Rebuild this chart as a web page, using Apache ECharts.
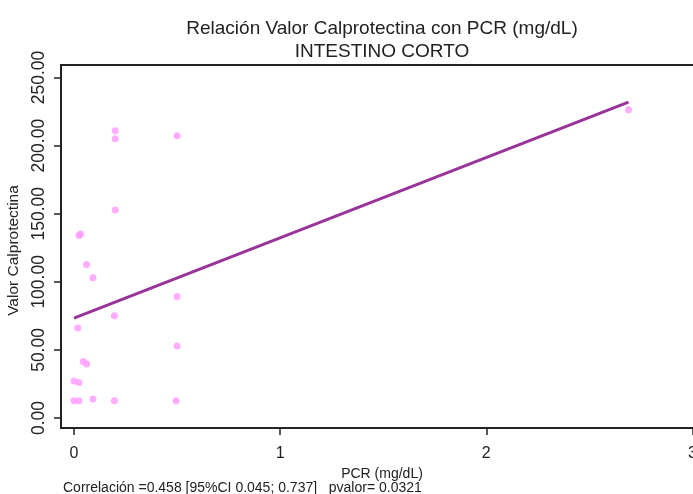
<!DOCTYPE html>
<html>
<head>
<meta charset="utf-8">
<script src="https://cdn.jsdelivr.net/npm/echarts@6/dist/echarts.min.js"></script>
<style>html,body{margin:0;padding:0;background:#fff}#c{width:693px;height:494px}</style>
</head>
<body>
<div id="c"></div>
<script>
// Data
const pcr = [0, 0.024, 0.092, 0.196, 0.495, 0, 0.024, 0.045, 0.061, 0.018, 0.196, 0.5, 0.5, 0.092, 0.061, 0.024, 0.032, 0.2, 0.2, 0.2, 0.5, 2.69];
const calpro = [12.7, 12.7, 14, 12.7, 12.7, 27.2, 26.1, 41.6, 39.6, 66.1, 75.1, 52.9, 89.3, 103, 112.8, 134.1, 135.1, 152.7, 210.9, 205.1, 207.3, 226.4];
const fitX = [0, 2.69];
const fitY = [73.4, 232];
const yTicks = [0, 50, 100, 150, 200, 250];
const xTicks = [0, 1, 2, 3];

const chart = echarts.init(document.getElementById('c'));
const font = 'Liberation Sans, Arial, sans-serif';
chart.setOption({
  animation: false,
  title: [
    { text: 'Relación Valor Calprotectina con PCR (mg/dL)', left: 377, top: 14, textAlign: 'center',
      textStyle: { fontFamily: font, fontSize: 19, fontWeight: 'normal', color: '#222' } },
    { text: 'INTESTINO CORTO', left: 377, top: 37, textAlign: 'center',
      textStyle: { fontFamily: font, fontSize: 19, fontWeight: 'normal', color: '#222' } },
    { text: 'Correlación =0.458 [95%CI 0.045; 0.737]   pvalor= 0.0321', left: 58, top: 476,
      textStyle: { fontFamily: font, fontSize: 14, fontWeight: 'normal', color: '#222' } }
  ],
  grid: { left: 61, top: 65, bottom: 66, width: 652, show: true, borderColor: '#222', borderWidth: 2,
    containLabel: false, outerBoundsMode: 'none' },
  xAxis: {
    type: 'value', min: -0.063, max: 3.1,
    name: 'PCR (mg/dL)', nameLocation: 'middle', nameGap: 29,
    nameTextStyle: { fontFamily: font, fontSize: 14, color: '#222', padding: [0, 10, 0, 0] },
    axisLine: { show: false, onZero: false },
    axisTick: { show: true, length: 7, inside: false, customValues: xTicks, lineStyle: { color: '#222', width: 1.5 } },
    axisLabel: { customValues: xTicks, fontFamily: font, fontSize: 16, color: '#222', margin: 18, formatter: v => String(v) },
    splitLine: { show: false }
  },
  yAxis: {
    type: 'value', min: -7.3, max: 259.2,
    name: 'Valor Calprotectina', nameLocation: 'middle', nameGap: 35,
    nameTextStyle: { fontFamily: font, fontSize: 15.5, color: '#222', padding: [0, 8, 0, 0] },
    axisLine: { show: false, onZero: false },
    axisTick: { show: true, length: 7, inside: false, customValues: yTicks, lineStyle: { color: '#222', width: 1.5 } },
    axisLabel: { customValues: yTicks, rotate: 90, fontFamily: font, fontSize: 17.5, color: '#222', margin: 13, formatter: v => v.toFixed(2) },
    splitLine: { show: false }
  },
  series: [
    { type: 'scatter', data: pcr.map((x, i) => [x, calpro[i]]), symbol: 'circle', symbolSize: 7,
      itemStyle: { color: '#ff99ff' } },
    { type: 'line', data: fitX.map((x, i) => [x, fitY[i]]), symbol: 'none',
      lineStyle: { color: '#993399', width: 3 } }
  ]
});
</script>
</body>
</html>
